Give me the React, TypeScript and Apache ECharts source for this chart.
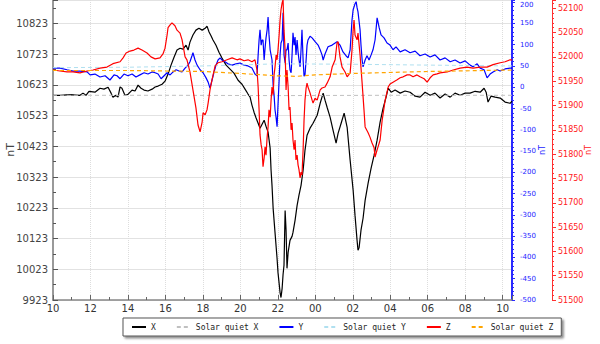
import React, { useEffect, useRef } from "react";
import * as echarts from "echarts";

// time in hours after 10:00 (start of axis), value in nT
const xComponent: [number, number][] = [
  [0, 10589], [0.37, 10589], [0.91, 10591], [1.44, 10589], [1.6, 10596], [1.76, 10589], [1.92, 10602], [2.24, 10599], [2.51, 10612], [2.72, 10609],
  [2.94, 10615], [3.1, 10596], [3.2, 10583], [3.36, 10589], [3.47, 10583], [3.58, 10616], [3.68, 10612], [3.84, 10589], [4.0, 10592], [4.22, 10606],
  [4.38, 10603], [4.54, 10622], [4.7, 10612], [4.86, 10606], [5.07, 10603], [5.29, 10609], [5.45, 10616], [5.61, 10619], [5.82, 10625], [5.98, 10635],
  [6.14, 10658], [6.3, 10687], [6.46, 10713], [6.62, 10736], [6.78, 10742], [6.94, 10739], [7.1, 10752], [7.21, 10736], [7.31, 10762], [7.47, 10785],
  [7.63, 10801], [7.79, 10807], [7.96, 10801], [8.12, 10807], [8.22, 10814], [8.33, 10795], [8.44, 10782], [8.54, 10769], [8.7, 10752], [8.86, 10729],
  [9.02, 10710], [9.24, 10687], [9.45, 10674], [9.66, 10661], [9.88, 10638], [10.09, 10625], [10.25, 10609], [10.41, 10593], [10.52, 10583], [10.62, 10557],
  [10.73, 10534], [10.84, 10515], [10.95, 10498], [11.05, 10482], [11.16, 10495], [11.27, 10508], [11.37, 10488], [11.48, 10469], [11.59, 10417], [11.64, 10345],
  [11.69, 10296], [11.75, 10221], [11.85, 10143], [11.96, 10058], [12.01, 10012], [12.07, 9977], [12.12, 9947], [12.17, 9931], [12.23, 9961], [12.28, 10006],
  [12.33, 10036], [12.39, 10214], [12.44, 10150], [12.49, 10026], [12.55, 10078], [12.65, 10117], [12.76, 10130], [12.81, 10143], [12.92, 10182], [13.03, 10231],
  [13.13, 10264], [13.24, 10296], [13.35, 10345], [13.45, 10410], [13.56, 10459], [13.72, 10482], [13.88, 10498], [14.1, 10524], [14.26, 10563], [14.42, 10596],
  [14.52, 10573], [14.63, 10550], [14.79, 10518], [14.95, 10475], [15.11, 10433], [15.22, 10466], [15.38, 10498], [15.54, 10531], [15.7, 10485], [15.86, 10378],
  [16.02, 10280], [16.12, 10199], [16.23, 10117], [16.28, 10085], [16.34, 10094], [16.44, 10150], [16.55, 10189], [16.66, 10247], [16.82, 10303], [16.98, 10352],
  [17.14, 10394], [17.3, 10443], [17.46, 10502], [17.62, 10547], [17.78, 10583], [17.89, 10612], [18.05, 10599], [18.26, 10606], [18.53, 10596], [18.79, 10603],
  [19.06, 10599], [19.33, 10586], [19.59, 10583], [19.86, 10599], [20.13, 10589], [20.39, 10596], [20.66, 10580], [20.93, 10593], [21.2, 10583], [21.46, 10596],
  [21.73, 10589], [22.0, 10596], [22.26, 10596], [22.53, 10602], [22.8, 10599], [23.01, 10612], [23.12, 10599], [23.22, 10567], [23.38, 10586], [23.6, 10583],
  [23.87, 10580], [24.13, 10567], [24.4, 10563], [24.5, 10570],
];

const yComponent: [number, number][] = [
  [0, 45], [0.37, 45], [0.75, 41], [1.07, 38], [1.44, 38], [1.82, 36], [1.98, 29], [2.24, 31], [2.51, 24], [2.78, 27],
  [3.04, 17], [3.26, 29], [3.42, 27], [3.58, 20], [3.79, 31], [4.0, 27], [4.22, 31], [4.43, 24], [4.64, 29], [4.86, 34],
  [5.07, 31], [5.29, 36], [5.45, 34], [5.61, 31], [5.77, 20], [5.93, 27], [6.09, 34], [6.25, 29], [6.41, 36], [6.57, 41],
  [6.73, 38], [6.89, 36], [7.05, 45], [7.21, 52], [7.31, 60], [7.42, 74], [7.47, 81], [7.58, 64], [7.69, 52], [7.85, 41],
  [8.01, 34], [8.17, 22], [8.28, 12], [8.38, -2], [8.49, 17], [8.6, 36], [8.7, 52], [8.81, 64], [8.92, 69], [9.02, 64],
  [9.18, 60], [9.34, 55], [9.56, 52], [9.77, 55], [9.98, 57], [10.2, 52], [10.41, 50], [10.62, 45], [10.78, 31], [10.89, 27],
  [10.95, 76], [11.0, 111], [11.05, 135], [11.11, 99], [11.16, 111], [11.21, 111], [11.27, 64], [11.32, 92], [11.37, 116], [11.43, 135],
  [11.48, 165], [11.53, 123], [11.59, 88], [11.69, 64], [11.75, 5], [11.8, -18], [11.85, -53], [11.91, -72], [11.96, -93], [12.01, -41],
  [12.07, 17], [12.12, 76], [12.17, 104], [12.23, 111], [12.28, 175], [12.33, 76], [12.39, 57], [12.44, 88], [12.49, 88], [12.55, 104],
  [12.6, 64], [12.65, 41], [12.71, 34], [12.76, 76], [12.81, 128], [12.87, 99], [12.92, 118], [12.97, 76], [13.03, 111], [13.08, 83],
  [13.13, 64], [13.19, 48], [13.24, 88], [13.29, 135], [13.35, 64], [13.4, 26], [13.45, 29], [13.51, 64], [13.56, 99], [13.61, 111],
  [13.72, 120], [13.83, 116], [13.99, 107], [14.15, 99], [14.26, 88], [14.36, 76], [14.42, 64], [14.52, 78], [14.68, 95], [14.9, 99],
  [15.16, 107], [15.32, 99], [15.48, 83], [15.64, 74], [15.75, 69], [15.86, 88], [15.91, 123], [15.96, 158], [16.02, 182], [16.12, 196],
  [16.18, 201], [16.23, 187], [16.28, 177], [16.34, 154], [16.39, 135], [16.44, 99], [16.5, 64], [16.55, 48], [16.66, 64], [16.76, 74],
  [16.87, 64], [16.98, 76], [17.08, 88], [17.19, 111], [17.3, 163], [17.41, 140], [17.51, 123], [17.67, 116], [17.83, 104], [17.99, 99],
  [18.15, 88], [18.31, 95], [18.53, 83], [18.79, 88], [19.06, 81], [19.33, 85], [19.59, 74], [19.86, 78], [20.13, 71], [20.39, 76],
  [20.66, 64], [20.93, 69], [21.2, 60], [21.46, 64], [21.73, 57], [22.0, 62], [22.26, 52], [22.42, 48], [22.64, 55], [22.8, 45],
  [23.01, 41], [23.17, 22], [23.33, 31], [23.49, 36], [23.71, 41], [23.87, 38], [24.13, 43], [24.4, 45], [24.5, 45],
];

const zComponent: [number, number][] = [
  [0, 51973], [0.37, 51971], [0.75, 51969], [1.07, 51969], [1.44, 51967], [1.82, 51971], [2.14, 51973], [2.51, 51977], [2.88, 51979], [3.2, 51986],
  [3.58, 51990], [3.74, 51998], [3.9, 52008], [4.11, 52012], [4.32, 52014], [4.54, 52018], [4.75, 52014], [5.02, 52008], [5.23, 52000], [5.45, 51996],
  [5.71, 51998], [5.87, 52006], [5.98, 52018], [6.09, 52045], [6.14, 52060], [6.25, 52066], [6.35, 52070], [6.51, 52064], [6.62, 52055], [6.78, 52049],
  [6.89, 52035], [7.05, 52000], [7.15, 51994], [7.31, 51969], [7.47, 51932], [7.63, 51895], [7.74, 51860], [7.85, 51846], [7.96, 51866], [8.01, 51885],
  [8.12, 51881], [8.22, 51891], [8.28, 51905], [8.38, 51932], [8.49, 51953], [8.65, 51981], [8.81, 51988], [9.02, 51990], [9.29, 51994], [9.56, 51998],
  [9.82, 51994], [9.98, 51996], [10.2, 51992], [10.41, 51994], [10.62, 51990], [10.78, 51994], [10.89, 51973], [10.95, 51938], [11.0, 51891], [11.05, 51840],
  [11.11, 51819], [11.16, 51809], [11.21, 51774], [11.27, 51792], [11.32, 51815], [11.37, 51798], [11.43, 51835], [11.48, 51856], [11.53, 51891], [11.59, 51876],
  [11.64, 51911], [11.69, 51938], [11.75, 51922], [11.8, 51963], [11.85, 51979], [11.91, 52004], [11.96, 51994], [12.01, 52014], [12.07, 52045], [12.12, 52076],
  [12.17, 52097], [12.23, 52111], [12.28, 52118], [12.33, 52055], [12.39, 52014], [12.44, 51932], [12.49, 51973], [12.55, 51938], [12.6, 51891], [12.65, 51897],
  [12.71, 51850], [12.76, 51864], [12.81, 51829], [12.87, 51809], [12.92, 51829], [12.97, 51788], [13.03, 51798], [13.08, 51778], [13.13, 51768], [13.19, 51751],
  [13.24, 51763], [13.29, 51757], [13.35, 51809], [13.4, 51870], [13.45, 51911], [13.51, 51936], [13.56, 51946], [13.61, 51938], [13.72, 51926], [13.83, 51911],
  [13.88, 51905], [13.99, 51915], [14.1, 51911], [14.26, 51932], [14.36, 51936], [14.52, 51938], [14.63, 51946], [14.79, 51959], [14.9, 51979], [15.06, 51994],
  [15.16, 52029], [15.22, 52031], [15.32, 52000], [15.43, 51979], [15.59, 51969], [15.7, 51959], [15.86, 51967], [15.96, 52014], [16.02, 52055], [16.07, 52076],
  [16.12, 52045], [16.23, 52035], [16.28, 52049], [16.39, 52004], [16.5, 51946], [16.6, 51891], [16.66, 51856], [16.82, 51844], [16.92, 51835], [17.03, 51823],
  [17.14, 51813], [17.19, 51794], [17.3, 51809], [17.35, 51815], [17.46, 51829], [17.57, 51870], [17.73, 51911], [17.89, 51938], [17.99, 51944], [18.15, 51948],
  [18.37, 51953], [18.53, 51957], [18.69, 51959], [18.9, 51963], [19.06, 51963], [19.22, 51959], [19.43, 51963], [19.59, 51959], [19.81, 51955], [19.97, 51948],
  [20.13, 51957], [20.29, 51963], [20.5, 51965], [20.66, 51967], [21.04, 51969], [21.36, 51973], [21.73, 51977], [22.1, 51979], [22.42, 51977], [22.8, 51979],
  [23.17, 51979], [23.49, 51984], [23.87, 51988], [24.13, 51990], [24.4, 51994], [24.5, 51994],
];

const solarQuietX: [number, number][] = [[0, 10589], [6, 10589], [12, 10588], [18, 10589], [24.5, 10589]];
const solarQuietY: [number, number][] = [[0, 46], [4, 47], [8, 50], [12, 55], [16, 54], [20, 52], [24.5, 50]];
const solarQuietZ: [number, number][] = [
  [0, 51972], [4, 51972], [8, 51970], [10, 51966], [12, 51961], [13, 51960], [14, 51963], [16, 51966], [20, 51970], [24.5, 51973],
];

const seriesNames = ["X", "Solar quiet X", "Y", "Solar quiet Y", "Z", "Solar quiet Z"];

const FONT = "DejaVu Sans";

export default function App() {
  const ref = useRef<HTMLDivElement>(null);

  useEffect(() => {
    if (!ref.current) return;
    const chart = echarts.init(ref.current, undefined, { renderer: "svg" });

    const lineSeries = (
      name: string,
      data: [number, number][],
      yAxisIndex: number,
      color: string,
      dashed: boolean,
      width: number
    ) => ({
      name,
      type: "line",
      data,
      yAxisIndex,
      symbol: "none",
      showSymbol: false,
      clip: true,
      lineStyle: { color, width, type: dashed ? [4, 3] : "solid" },
      itemStyle: { color },
      emphasis: { disabled: true },
    });

    const plain = (v: number) => String(v);

    chart.setOption({
      animation: false,
      backgroundColor: "#ffffff",
      grid: { left: 53, right: 88, top: 0, bottom: 44, containLabel: false, outerBoundsMode: "none" },
      legend: {
        data: seriesNames,
        left: 123,
        top: 318,
        orient: "horizontal",
        padding: [5, 8],
        itemWidth: 14,
        itemHeight: 8,
        itemGap: 20,
        borderColor: "#555",
        borderWidth: 1,
        backgroundColor: "#ffffff",
        shadowColor: "rgba(0,0,0,0.45)",
        shadowBlur: 2,
        shadowOffsetX: 2,
        shadowOffsetY: 2,
        itemStyle: { opacity: 0 },
        textStyle: { fontFamily: "DejaVu Sans Mono", fontSize: 8, color: "#222" },
        selectedMode: false,
      },
      xAxis: {
        type: "value",
        min: 0,
        max: 24.5,
        interval: 2,
        axisLine: { show: true, onZero: false, lineStyle: { color: "#888", width: 1.5 } },
        axisTick: { show: true, inside: true, length: 5, lineStyle: { color: "#666" } },
        minorTick: { show: true, splitNumber: 2, length: 3, lineStyle: { color: "#666" } },
        splitLine: { show: true, lineStyle: { color: "#dddddd", type: "dotted", width: 1 } },
        axisLabel: {
          color: "#333",
          fontFamily: FONT,
          fontSize: 10,
          margin: 3,
          showMaxLabel: false,
          formatter: (v: number) => {
            if (v > 24.01) return "";
            const h = (10 + Math.round(v)) % 24;
            return String(h).padStart(2, "0");
          },
        },
      },
      yAxis: [
        {
          type: "value",
          position: "left",
          min: 9923,
          max: 10899,
          interval: 100,
          name: "nT",
          nameLocation: "middle",
          nameGap: 37,
          nameMoveOverlap: false,
          nameTextStyle: { color: "#444", fontFamily: FONT, fontSize: 11 },
          axisLine: { show: true, onZero: false, lineStyle: { color: "#999", width: 2 } },
          axisTick: { show: true, inside: true, length: 5, lineStyle: { color: "#555" } },
          minorTick: { show: true, splitNumber: 2, length: 3, lineStyle: { color: "#555" } },
          splitLine: { show: true, lineStyle: { color: "#e2e2e2", width: 1 } },
          axisLabel: { color: "#444", fontFamily: FONT, fontSize: 10, margin: 5, showMaxLabel: false, formatter: plain },
        },
        {
          type: "value",
          position: "right",
          min: -500,
          max: 205,
          interval: 50,
          name: "nT",
          nameLocation: "middle",
          nameGap: 26,
          nameMoveOverlap: false,
          nameTextStyle: { color: "#1a1aff", fontFamily: FONT, fontSize: 8 },
          axisLine: { show: true, onZero: false, lineStyle: { color: "#2a2aff", width: 2 } },
          axisTick: { show: true, length: 3, lineStyle: { color: "#2a2aff" } },
          minorTick: { show: true, splitNumber: 5, length: 2, lineStyle: { color: "#2a2aff" } },
          splitLine: { show: false },
          axisLabel: {
            color: "#2222ff",
            fontFamily: FONT,
            fontSize: 7,
            margin: 8,
            showMaxLabel: false,
            formatter: (v: number) => (v === 200 ? "{top|200}" : String(v)),
            rich: { top: { color: "#2222ff", fontFamily: FONT, fontSize: 7, padding: [6, 0, 0, 0] } },
          },
        },
        {
          type: "value",
          position: "right",
          offset: 40,
          min: 51500,
          max: 52117,
          interval: 50,
          name: "nT",
          nameLocation: "middle",
          nameGap: 32,
          nameMoveOverlap: false,
          nameTextStyle: { color: "#ff2020", fontFamily: FONT, fontSize: 8 },
          axisLine: { show: true, onZero: false, lineStyle: { color: "#ff3030", width: 1 } },
          axisTick: { show: true, length: 4, lineStyle: { color: "#ff3030" } },
          minorTick: { show: true, splitNumber: 5, length: 2, lineStyle: { color: "#ff3030" } },
          splitLine: { show: false },
          axisLabel: { color: "#ff2020", fontFamily: FONT, fontSize: 8, margin: 6, showMaxLabel: false, formatter: plain },
        },
      ],
      series: [
        lineSeries("X", xComponent, 0, "#000000", false, 1.2),
        lineSeries("Solar quiet X", solarQuietX, 0, "#c0c0c0", true, 1),
        lineSeries("Y", yComponent, 1, "#0000ff", false, 1.2),
        lineSeries("Solar quiet Y", solarQuietY, 1, "#b0e0f0", true, 1),
        lineSeries("Z", zComponent, 2, "#ff0000", false, 1.2),
        lineSeries("Solar quiet Z", solarQuietZ, 2, "#ffa500", true, 1.2),
      ],
    });

    return () => chart.dispose();
  }, []);

  return (
    <div
      ref={ref}
      style={{ position: "fixed", left: 0, top: 0, width: 600, height: 344, background: "#fff" }}
    />
  );
}
